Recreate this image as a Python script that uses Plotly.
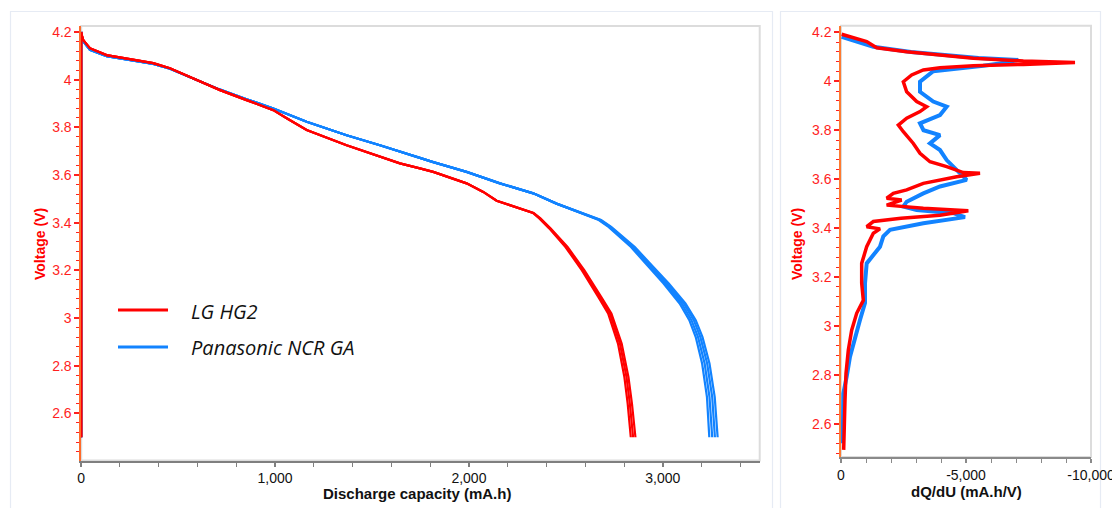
import plotly.graph_objects as go

# ---------------- Left panel: discharge curves (capacity mA.h vs voltage V) -------------
lg_voltage = [2.50, 4.20, 4.187, 4.166, 4.132, 4.103, 4.085, 4.069, 4.048, 3.998, 3.956, 3.914,
              3.872, 3.838, 3.789, 3.725, 3.676, 3.649, 3.628, 3.613, 3.565, 3.529, 3.492,
              3.473, 3.441, 3.418, 3.376, 3.298, 3.200, 3.088, 3.019, 2.893, 2.752, 2.641, 2.500]
lg_cap_1 = [0, 0, 3, 11, 45, 131, 252, 372, 458, 596, 716, 853, 991, 1060, 1163, 1369, 1541, 1644,
            1747, 1816, 1988, 2074, 2143, 2211, 2330, 2363, 2414, 2498, 2583, 2668, 2718, 2769,
            2802, 2819, 2835]
lg_cap_2 = [0, 0, 3, 11, 45, 131, 252, 372, 458, 596, 716, 853, 991, 1060, 1163, 1369, 1541, 1644,
            1747, 1816, 1988, 2074, 2143, 2211, 2332, 2366, 2418, 2504, 2590, 2676, 2727, 2779,
            2813, 2830, 2847]
lg_cap_3 = [0, 0, 3, 11, 45, 131, 252, 372, 458, 596, 716, 853, 991, 1060, 1163, 1369, 1541, 1644,
            1747, 1816, 1988, 2074, 2143, 2211, 2334, 2369, 2422, 2509, 2596, 2683, 2735, 2788,
            2823, 2841, 2859]

pan_voltage = [2.50, 4.20, 4.18, 4.16, 4.125, 4.098, 4.082, 4.066, 4.046, 3.998, 3.958, 3.918,
               3.879, 3.823, 3.767, 3.725, 3.697, 3.672, 3.654, 3.613, 3.565, 3.523, 3.480,
               3.464, 3.411, 3.382, 3.298, 3.221, 3.145, 3.061, 2.991, 2.920, 2.809, 2.668, 2.500]
pan_cap_1 = [0, 0, 3, 11, 45, 131, 252, 372, 458, 596, 716, 853, 991, 1163, 1369, 1541, 1644,
             1747, 1816, 1988, 2160, 2332, 2452, 2504, 2670, 2720, 2836, 2920, 3004, 3087, 3137,
             3170, 3203, 3228, 3240]
pan_cap_2 = [0, 0, 3, 11, 45, 131, 252, 372, 458, 596, 716, 853, 991, 1163, 1369, 1541, 1644,
             1747, 1816, 1988, 2160, 2332, 2452, 2504, 2674, 2725, 2843, 2928, 3013, 3097, 3148,
             3182, 3216, 3241, 3255]
pan_cap_3 = [0, 0, 3, 11, 45, 131, 252, 372, 458, 596, 716, 853, 991, 1163, 1369, 1541, 1644,
             1747, 1816, 1988, 2160, 2332, 2452, 2504, 2678, 2730, 2850, 2936, 3023, 3108, 3160,
             3194, 3229, 3255, 3269]
pan_cap_4 = [0, 0, 3, 11, 45, 131, 252, 372, 458, 596, 716, 853, 991, 1163, 1369, 1541, 1644,
             1747, 1816, 1988, 2160, 2332, 2452, 2504, 2682, 2734, 2856, 2943, 3031, 3117, 3170,
             3205, 3241, 3268, 3283]

# ---------------- Right panel: dQ/dU (mA.h/V) vs voltage ----------------
lg_dv_voltage = [4.192, 4.178, 4.162, 4.137, 4.121, 4.107, 4.094, 4.083, 4.077, 4.069, 4.063,
                 4.055, 4.046, 4.026, 3.998, 3.957, 3.917, 3.896, 3.876, 3.849, 3.821, 3.794,
                 3.746, 3.706, 3.671, 3.651, 3.627, 3.624, 3.610, 3.583, 3.556, 3.542, 3.522,
                 3.515, 3.494, 3.481, 3.471, 3.453, 3.440, 3.427, 3.406, 3.397, 3.379, 3.324,
                 3.277, 3.256, 3.175, 3.105, 3.052, 2.983, 2.902, 2.807, 2.698, 2.494]
lg_dqdu = [-27, -493, -1027, -1427, -2627, -3960, -5293, -7293, -9360, -7293, -5293,
           -3960, -3293, -2827, -2493, -2627, -3027, -3427, -3160, -2627, -2293, -2493,
           -2893, -3160, -3560, -4227, -4893, -5560, -4627, -3293, -2627, -2093, -1827,
           -2427, -1827, -3293, -5093, -3960, -2400, -1293, -1027, -1560, -1293, -1027,
           -893, -827, -827, -893, -627, -427, -293, -200, -160, -107]

pan_dv_voltage = [4.182, 4.160, 4.141, 4.120, 4.105, 4.095, 4.087, 4.075, 4.063, 4.041, 3.998,
                  3.957, 3.917, 3.896, 3.862, 3.828, 3.800, 3.780, 3.746, 3.719, 3.678, 3.651,
                  3.597, 3.570, 3.542, 3.508, 3.488, 3.474, 3.461, 3.445, 3.420, 3.393, 3.366,
                  3.324, 3.277, 3.256, 3.175, 3.094, 3.025, 2.957, 2.875, 2.793, 2.725, 2.600,
                  2.521]
pan_dqdu = [-27, -700, -1293, -2800, -4200, -5500, -7090, -6500, -5690, -3690, -3160,
            -3160, -3690, -4227, -3960, -3160, -3300, -3960, -3560, -3960, -4227, -4493,
            -5027, -3960, -3293, -2627, -2493, -3027, -4493, -4960, -3293, -1960, -1693,
            -1560, -1160, -1027, -960, -960, -760, -560, -360, -227, -93, -80,
            -67]

series_names = ["LG HG2", "Panasonic NCR GA"]
RED = "#FF0000"
BLUE = "#1283FF"

W, H = 1112, 500
OFF = 8  # page body margin offset


def px(x):
    return (x - OFF) / W


def py(y):
    return (H - (y - OFF)) / H


fig = go.Figure()

# Left panel traces (blue first, red on top)
for cap in [pan_cap_1, pan_cap_2, pan_cap_3, pan_cap_4]:
    fig.add_trace(go.Scatter(x=cap, y=pan_voltage, mode="lines", name=series_names[1],
                             line=dict(color=BLUE, width=2.2), xaxis="x", yaxis="y",
                             showlegend=False))
for cap in [lg_cap_1, lg_cap_2, lg_cap_3]:
    fig.add_trace(go.Scatter(x=cap, y=lg_voltage, mode="lines", name=series_names[0],
                             line=dict(color=RED, width=2.2), xaxis="x", yaxis="y",
                             showlegend=False))

# Right panel traces
fig.add_trace(go.Scatter(x=pan_dqdu, y=pan_dv_voltage, mode="lines", name=series_names[1],
                         line=dict(color=BLUE, width=4), xaxis="x2", yaxis="y2",
                         showlegend=False))
fig.add_trace(go.Scatter(x=lg_dqdu, y=lg_dv_voltage, mode="lines", name=series_names[0],
                         line=dict(color=RED, width=3.5), xaxis="x2", yaxis="y2",
                         showlegend=False))

FONT = "Liberation Sans, Arial, sans-serif"
tickfont_x = dict(family=FONT, size=14, color="#111111")
tickfont_y = dict(family=FONT, size=14, color="#FF1E1E")

x1_dom = [px(81.2), px(759.7)]
y1_dom = [py(460.6), py(26)]
x2_dom = [px(841), px(1091)]
y2_dom = [py(457), py(25.7)]

fig.update_layout(
    width=W, height=H,
    margin=dict(l=0, r=0, t=0, b=0, pad=0, autoexpand=False),
    paper_bgcolor="white", plot_bgcolor="white",
    showlegend=False,
    xaxis=dict(domain=x1_dom, range=[0, 3500], anchor="y", tick0=0, dtick=1000, automargin=False,
               tickformat=",", ticks="outside", ticklen=4, tickwidth=1.5, tickcolor="#7f7f7f",
               showline=True, linecolor="#7f7f7f", linewidth=2, showgrid=False, zeroline=False,
               tickfont=tickfont_x,
               minor=dict(dtick=200, tick0=0, ticks="outside", ticklen=4, tickcolor="#7f7f7f",
                          tickwidth=1, showgrid=False)),
    yaxis=dict(domain=y1_dom, range=[2.402, 4.225], anchor="x", tick0=0, dtick=0.2, automargin=False,
               ticks="outside", ticklen=5, tickwidth=1.5, tickcolor="#FF2020",
               showline=True, linecolor="#FF6A2A", linewidth=1.5, showgrid=False, zeroline=False,
               tickfont=tickfont_y,
               minor=dict(dtick=0.04, tick0=0, ticks="outside", ticklen=3, tickcolor="#FF2020",
                          tickwidth=1, showgrid=False)),
    xaxis2=dict(domain=x2_dom, range=[0, -10000], anchor="y2", automargin=False,
                tickmode="array", tickvals=[0, -5000, -10000], ticktext=["0", "-5,000", "-10,000"],
                ticks="outside", ticklen=4, tickwidth=1.5, tickcolor="#8a8a8a",
                showline=True, linecolor="#8a8a8a", linewidth=1.5, showgrid=False, zeroline=False,
                tickfont=tickfont_x,
                minor=dict(tickmode="linear", dtick=1000, tick0=0, ticks="outside", ticklen=4,
                           tickcolor="#8a8a8a", tickwidth=1, showgrid=False)),
    yaxis2=dict(domain=y2_dom, range=[2.465, 4.227], anchor="x2", tick0=0, dtick=0.2, automargin=False,
                ticks="outside", ticklen=5, tickwidth=1.5, tickcolor="#FF2020",
                showline=True, linecolor="#FF7A30", linewidth=1.5, showgrid=False, zeroline=False,
                tickfont=tickfont_y,
                minor=dict(dtick=0.04, tick0=0, ticks="outside", ticklen=3, tickcolor="#FF2020",
                           tickwidth=1, showgrid=False)),
)

shapes = []
# cards
shapes.append(dict(type="rect", xref="paper", yref="paper", x0=px(10.5), x1=px(772.5),
                   y0=-0.05, y1=py(11.5), line=dict(color="#E6EBF4", width=1.2),
                   fillcolor="rgba(0,0,0,0)", layer="below"))
shapes.append(dict(type="rect", xref="paper", yref="paper", x0=px(780.5), x1=px(1100.5),
                   y0=-0.05, y1=py(11.5), line=dict(color="#E6EBF4", width=1.2),
                   fillcolor="rgba(0,0,0,0)", layer="below"))
# plot frames
for xd, yd in [(x1_dom, y1_dom), (x2_dom, y2_dom)]:
    shapes.append(dict(type="rect", xref="paper", yref="paper", x0=xd[0], x1=xd[1],
                       y0=yd[0], y1=yd[1], line=dict(color="#DCDCDC", width=2),
                       fillcolor="rgba(0,0,0,0)", layer="below"))
# legend samples
shapes.append(dict(type="line", xref="paper", yref="paper", x0=px(118), x1=px(168),
                   y0=py(310), y1=py(310), line=dict(color=RED, width=3)))
shapes.append(dict(type="line", xref="paper", yref="paper", x0=px(118), x1=px(168),
                   y0=py(347), y1=py(347), line=dict(color=BLUE, width=3)))
fig.update_layout(shapes=shapes)

title_font_red = dict(family=FONT, size=14, color="#FF0000", weight="bold")
title_font_blk = dict(family=FONT, size=15, color="#111111", weight="bold")
legend_font = dict(family="Open Sans, Lato, sans-serif", size=20, color="#111111", style="italic")

annotations = [
    dict(text="Voltage (V)", x=px(40), y=py(244), xref="paper", yref="paper", showarrow=False,
         textangle=-90, font=title_font_red, xanchor="center", yanchor="middle"),
    dict(text="Discharge capacity (mA.h)", x=px(417), y=py(493), xref="paper", yref="paper",
         showarrow=False, font=title_font_blk, xanchor="center", yanchor="middle"),
    dict(text="Voltage (V)", x=px(797), y=py(244), xref="paper", yref="paper", showarrow=False,
         textangle=-90, font=title_font_red, xanchor="center", yanchor="middle"),
    dict(text="dQ/dU (mA.h/V)", x=px(966), y=py(491), xref="paper", yref="paper",
         showarrow=False, font=title_font_blk, xanchor="center", yanchor="middle"),
    dict(text=series_names[0], x=px(189), y=py(311), xref="paper", yref="paper", showarrow=False,
         font=legend_font, xanchor="left", yanchor="middle"),
    dict(text=series_names[1], x=px(189), y=py(348), xref="paper", yref="paper", showarrow=False,
         font=legend_font, xanchor="left", yanchor="middle"),
]
fig.update_layout(annotations=annotations)

fig.write_html("out.html")
